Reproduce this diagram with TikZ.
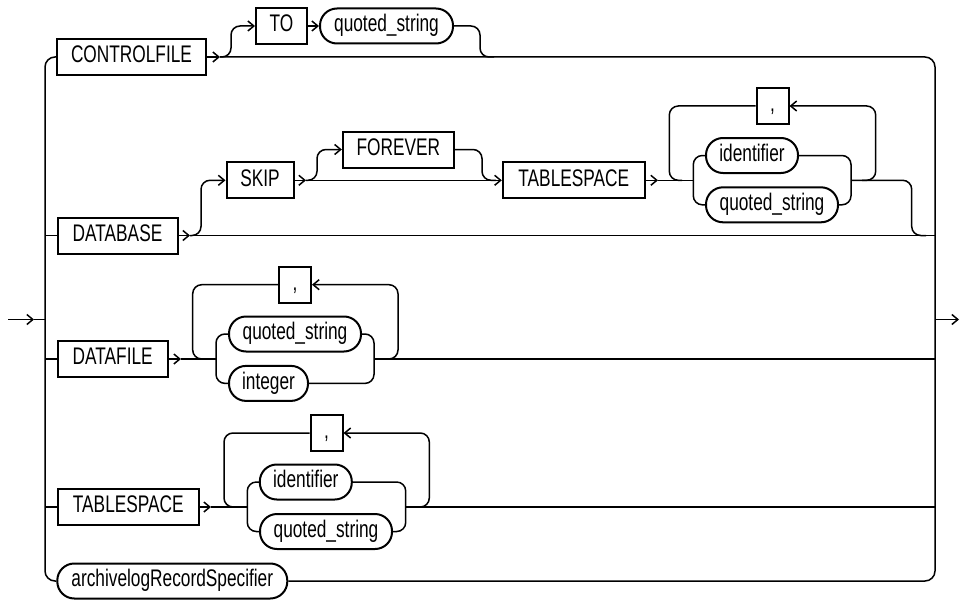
\documentclass[tikz,border=0pt]{standalone}
\usepackage{fontspec}
\setmainfont{Liberation Sans}[FakeStretch=0.72]
\usetikzlibrary{arrows.meta}
\tikzset{
  kw/.style={draw, line width=2pt, minimum height=36pt, inner sep=0pt, text height=17pt, text depth=5.6pt, font=\fontsize{24}{26}\selectfont},
  nt/.style={kw, rounded corners=17pt, minimum height=35pt},
  ln/.style={line width=1.5pt},
  arr/.style={ln, -{Straight Barb[length=6pt,width=10pt,line width=1.5pt]}},
  rc/.style={ln, rounded corners=9pt},
  rca/.style={arr, rounded corners=9pt}
}
\begin{document}
\begin{tikzpicture}[x=1pt,y=-1pt]
\fill[white] (0,0) rectangle (968,599);
\useasboundingbox (0,0) rectangle (968,599);

% nodes
\node[kw, minimum width=149pt] (ctl) at (131.5,57) {CONTROLFILE};
\node[kw, minimum width=51pt] (to) at (281.5,26) {TO};
\node[nt, minimum width=133pt] (qs1) at (386.5,26) {quoted\_string};
\node[kw, minimum width=120pt] (db) at (117.5,235.5) {DATABASE};
\node[kw, minimum width=67pt] (skip) at (260,180.3) {SKIP};
\node[kw, minimum width=111pt] (forever) at (398.3,149.5) {FOREVER};
\node[kw, minimum width=142pt] (ts1) at (573.8,180.3) {TABLESPACE};
\node[kw, minimum width=32pt] (cm1) at (772.5,106) {,};
\node[nt, minimum width=92pt] (id1) at (752,155.5) {identifier};
\node[nt, minimum width=132pt] (qs2) at (772,204.8) {quoted\_string};
\node[kw, minimum width=110pt] (df) at (112.7,359) {DATAFILE};
\node[kw, minimum width=32pt] (cm2) at (295,284.7) {,};
\node[nt, minimum width=132pt] (qs3) at (295,334) {quoted\_string};
\node[nt, minimum width=79pt] (int) at (268.5,383.4) {integer};
\node[kw, minimum width=141pt] (ts2) at (128.3,507) {TABLESPACE};
\node[kw, minimum width=32pt] (cm3) at (326.5,433) {,};
\node[nt, minimum width=92pt] (id2) at (305.8,482) {identifier};
\node[nt, minimum width=132pt] (qs4) at (326,531.5) {quoted\_string};
\node[nt, minimum width=230pt] (arc) at (172.3,581) {archivelogRecordSpecifier};

% entry / exit
\coordinate (in) at (8,319.5);
\coordinate (out) at (959,319.5);
\draw[arr] (in) -- (34,319.5) coordinate (inh);
\draw[ln] (inh) -- (45,319.5);
\draw[arr] (935,319.5) -- (out);

% CONTROLFILE row
\draw[arr] (ctl.east) -- (220,57) coordinate (c1);
\draw[ln, rounded corners=10pt] (ctl.west) -- (45,57) -- (45,581) -- (arc.west);
\draw[ln, rounded corners=10pt] (c1) -- (935,57) -- (935,581) -- (arc.east);
\draw[rca] (c1) -| (231,26) -- (to.west);
\draw[arr] (to.east) -- (qs1.west);
\draw[rc] (qs1.east) -| (480,57) -- (494,57);

% DATABASE row
\draw[ln] (45,235.5) -- (db.west);
\draw[arr] (db.east) -- (190,235.5) coordinate (d1);
\draw[ln] (d1) -- (935,235.5);
\draw[rca] (d1) -| (201,180.3) -- (skip.west);
\draw[arr] (skip.east) -- (306,180.3) coordinate (s1);
\draw[arr] (s1) -- (ts1.west);
\draw[rca] (s1) -| (317,149.5) -- (forever.west);
\draw[rc] (forever.east) -| (482,180.3) -- (496,180.3);
\draw[arr] (ts1.east) -- (658,180.3) coordinate (t1);
\draw[ln] (t1) -- (693.3,180.3);
\draw[rc] (cm1.west) -| (669.3,180.3) -- (682,180.3);
\draw[rca] (862,180.3) -| (875.7,106) -- (cm1.east);
\draw[rc] (id1.west) -| (693.3,204.8) -- (qs2.west);
\draw[rc] (id1.east) -| (851,204.8) -- (qs2.east);
\draw[rc] (851,180.3) -| (911.7,235.5) -- (926,235.5);

% DATAFILE row
\draw[ln] (45,359) -- (df.west);
\draw[arr] (df.east) -- (181,359) coordinate (f1);
\draw[ln] (f1) -- (216,359);
\draw[rc] (cm2.west) -| (192.7,359) -- (205,359);
\draw[rca] (385,359) -| (398,284.7) -- (cm2.east);
\draw[rc] (qs3.west) -| (216,383.4) -- (int.west);
\draw[rc] (qs3.east) -| (374,383.4) -- (int.east);
\draw[ln] (374,359) -- (935,359);

% TABLESPACE row
\draw[ln] (45,507) -- (ts2.west);
\draw[arr] (ts2.east) -- (211,507) coordinate (g1);
\draw[ln] (g1) -- (247.3,507);
\draw[rc] (cm3.west) -| (224,507) -- (236,507);
\draw[rca] (418,507) -| (429.3,433) -- (cm3.east);
\draw[rc] (id2.west) -| (247.3,531.5) -- (qs4.west);
\draw[rc] (id2.east) -| (405.7,531.5) -- (qs4.east);
\draw[ln] (405.7,507) -- (935,507);
\end{tikzpicture}
\end{document}
